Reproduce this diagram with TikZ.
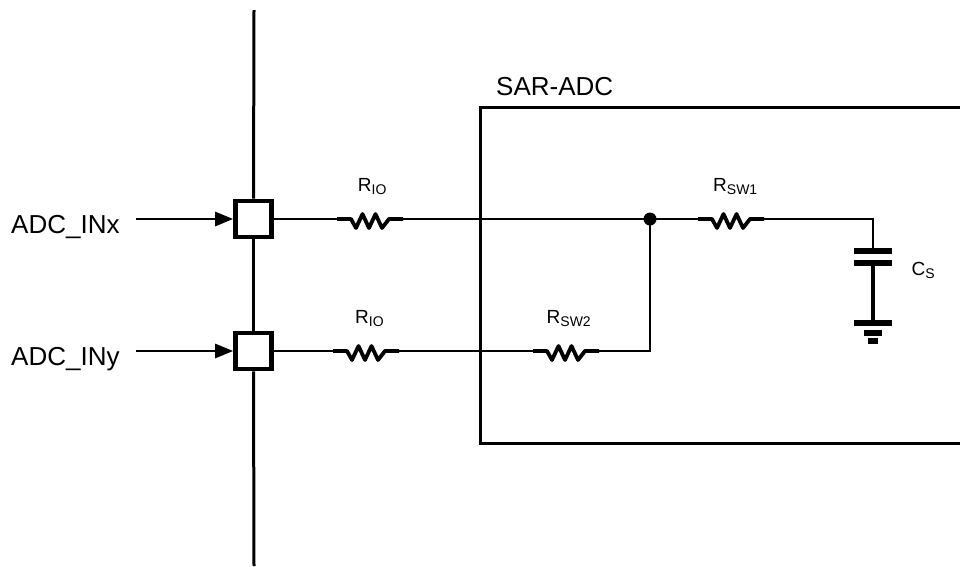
\documentclass[tikz,border=0pt]{standalone}
\usepackage{fontspec}
\setmainfont{Liberation Sans}
\usetikzlibrary{arrows.meta,calc}
\newcommand\lowsub[1]{\raisebox{-3pt}{\fontsize{14}{14}\selectfont #1}}
\begin{document}
\begin{tikzpicture}[x=1pt,y=-1pt,
  wire/.style={line width=2.6pt},
  bus/.style={line width=3pt},
  box/.style={line width=3pt},
  res/.style={line width=3.8pt, line join=round},
  pad/.style={draw, line width=4.6pt, minimum size=36pt, inner sep=0pt, fill=white},
  lbl/.style={anchor=base west, inner sep=0pt, font=\fontsize{26}{30}\selectfont},
  rlbl/.style={anchor=base west, inner sep=0pt, font=\fontsize{19}{22}\selectfont},
  plate/.style={line width=5.6pt},
  dot/.style={circle, fill, inner sep=0pt, minimum size=13pt},
  resistor/.pic={
    \coordinate (-l) at (0,0);
    \coordinate (-r) at (66,0);
    \draw[res] (0,0) -- (14,0) -- ++(5,9) -- ++(6.5,-14) -- ++(6.5,14) -- ++(6.5,-14) -- ++(6.5,14) -- ++(7,-9) -- (66,0);
  }]
\useasboundingbox (0,0) rectangle (960,566);

% SAR-ADC block
\draw[box] (961,107) -- (480,107) -- (480,443) -- (961,443);
\node[lbl] (sar) at (496,95) {SAR-ADC};

% bus and pads
\coordinate (bustop) at (254,10);
\coordinate (busbot) at (254,566);
\node[pad] (p1) at (253.5,219) {};
\node[pad] (p2) at (253.5,351) {};
\draw[bus] (bustop) -- (p1.north);
\draw[bus] (p1.south) -- (p2.north);
\draw[bus] (p2.south) -- (busbot);

% inputs
\node[lbl] (inx) at (11,233) {ADC\_INx};
\node[lbl] (iny) at (11,365) {ADC\_INy};
\coordinate (ax) at (136,219);
\coordinate (ay) at (136,351);
\draw[wire,-{Triangle[length=18pt,width=14pt]}] (ax) -- (p1.west);
\draw[wire,-{Triangle[length=18pt,width=14pt]}] (ay) -- (p2.west);

% resistors
\pic (ra) at (337,219) {resistor};
\pic (rb) at (333,351) {resistor};
\pic (rc) at (698,219) {resistor};
\pic (rd) at (533,351) {resistor};
\node[rlbl] at (357.7,191) {R\lowsub{IO}};
\node[rlbl] at (355,323) {R\lowsub{IO}};
\node[rlbl] at (713,191) {R\lowsub{SW1}};
\node[rlbl] at (546.5,323) {R\lowsub{SW2}};

% junction
\node[dot] (j) at (650,219) {};
\coordinate (jb) at (650,351);

\draw[wire] (p1.east) -- (ra-l);
\draw[wire] (ra-r) -- (j.center);
\draw[wire] (j.center) -- (rc-l);
\draw[wire] (p2.east) -- (rb-l);
\draw[wire] (rb-r) -- (rd-l);
\draw[wire] (rd-r) -- (jb) -- (j.center);

% capacitor and ground
\coordinate (cbend) at (873,219);
\coordinate (ctop) at (873,251);
\coordinate (cbot) at (873,263);
\coordinate (gnd) at (873,323);
\draw[wire] (rc-r) -- (cbend) -- (ctop);
\draw[plate] ($(ctop)+(-19,0)$) -- +(38,0);
\draw[plate] ($(cbot)+(-19,0)$) -- +(38,0);
\draw[wire, line width=3.2pt] (cbot) -- (gnd);
\draw[plate] ($(gnd)+(-19,0)$) -- +(38,0);
\draw[plate] ($(gnd)+(-9,10)$) -- +(18,0);
\draw[plate] ($(gnd)+(-5,18)$) -- +(10,0);
\node[rlbl] (cs) at (911.5,275) {C\lowsub{S}};
\end{tikzpicture}
\end{document}
